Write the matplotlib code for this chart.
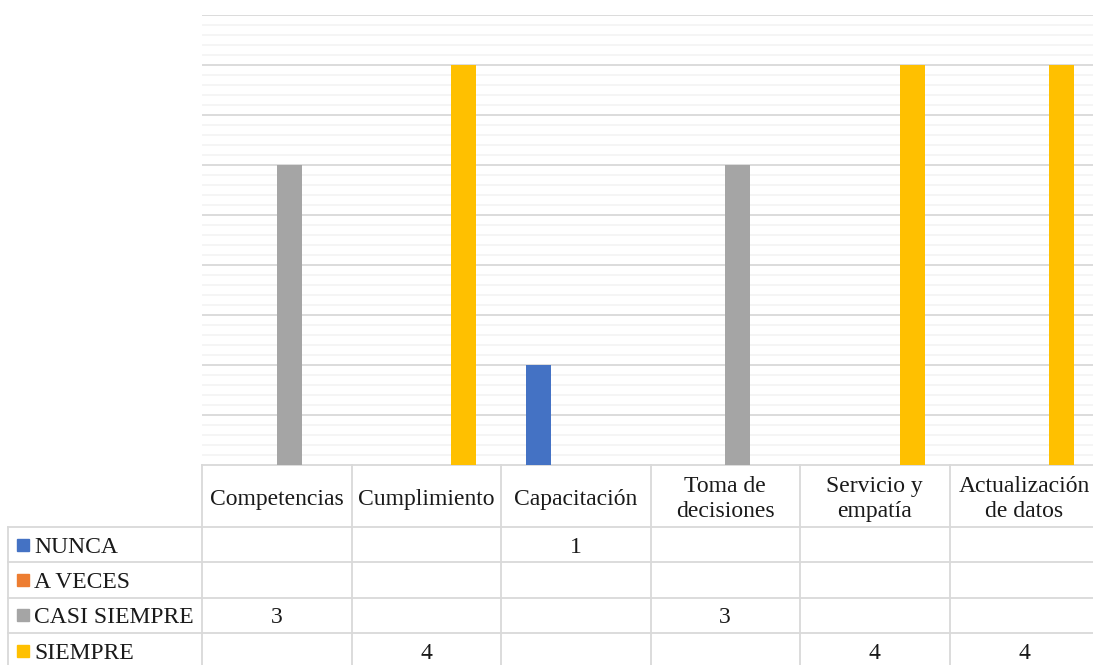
import numpy as np
import matplotlib
matplotlib.use('Agg')
from matplotlib import pyplot as plt

categories = ['Competencias', 'Cumplimiento', 'Capacitación',
              'Toma de\ndecisiones', 'Servicio y\nempatía', 'Actualización\nde datos']
series_names = ['NUNCA', 'A VECES', 'CASI SIEMPRE', 'SIEMPRE']
nunca = [np.nan, np.nan, 1, np.nan, np.nan, np.nan]
a_veces = [np.nan, np.nan, np.nan, np.nan, np.nan, np.nan]
casi_siempre = [3, np.nan, np.nan, 3, np.nan, np.nan]
siempre = [np.nan, 4, np.nan, np.nan, 4, 4]
colors = ['#4472C4', '#ED7D31', '#A5A5A5', '#FFC000']

series = [nunca, a_veces, casi_siempre, siempre]

plt.rcParams['font.family'] = ['Liberation Serif', 'DejaVu Serif']
W, H = 1093, 665
fig = plt.figure(figsize=(W / 100, H / 100), dpi=100)
cat_px = 149.5
left_px, top_px, base_px = 202, 15, 465
ax = fig.add_axes([left_px / W, (H - base_px) / H, (W - left_px) / W, (base_px - top_px) / H])
ax.set_xlim(-0.5, -0.5 + (W - left_px) / cat_px)
ax.set_ylim(0, 4.5)

# grid
for y in np.arange(0.1, 4.51, 0.1):
    major = abs(y * 2 - round(y * 2)) < 1e-6
    ax.axhline(y, color='#d9d9d9' if major else '#f2f2f2', lw=1.3 if major else 1.1, zorder=0)

x = np.arange(len(categories))
bw = 25 / cat_px
for i, (vals, c) in enumerate(zip(series, colors)):
    h = np.nan_to_num(np.array(vals, dtype=float))
    ax.bar(x + (i - 1.5) * bw, h, width=bw, color=c, zorder=2)

ax.axis('off')

# data table below the plot (units: 1 y unit = 100 px)
lc = '#d9d9d9'
label_left = (8 - left_px) / cat_px - 0.5
x_end = -0.5 + (W - left_px) / cat_px + 0.5
hdr = -0.62
row_h = 0.353
rows_y = [hdr - row_h * k for k in range(5)]
kw = dict(color=lc, lw=1.3, clip_on=False, zorder=1)
ax.plot([-0.5, x_end], [0, 0], **kw)
for yy in rows_y:
    ax.plot([label_left, x_end], [yy, yy], **kw)
for xx in np.arange(-0.5, len(categories) + 0.5):
    ax.plot([xx, xx], [0, rows_y[-1]], **kw)
ax.plot([label_left, label_left], [hdr, rows_y[-1]], **kw)

fs = 17
tc = '#1a1a1a'
for j, cat in enumerate(categories):
    ax.text(j, hdr / 2 - 0.03, cat, ha='center', va='center', fontsize=fs,
            color=tc, linespacing=1.3, clip_on=False)

sq = 12 / cat_px
for i, (name, vals, c) in enumerate(zip(series_names, series, colors)):
    yc = hdr - row_h * (i + 0.5)
    ax.add_patch(plt.Rectangle((label_left + 9 / cat_px, yc - 0.06), sq, 0.12,
                               color=c, clip_on=False))
    ax.text(label_left + 26 / cat_px, yc, name, ha='left', va='center_baseline',
            fontsize=fs, color=tc, clip_on=False)
    for j, v in enumerate(vals):
        if not np.isnan(v):
            ax.text(j, yc, '%d' % v, ha='center', va='center_baseline', fontsize=fs,
                    color=tc, clip_on=False)

fig.savefig('out.png', dpi=100)
